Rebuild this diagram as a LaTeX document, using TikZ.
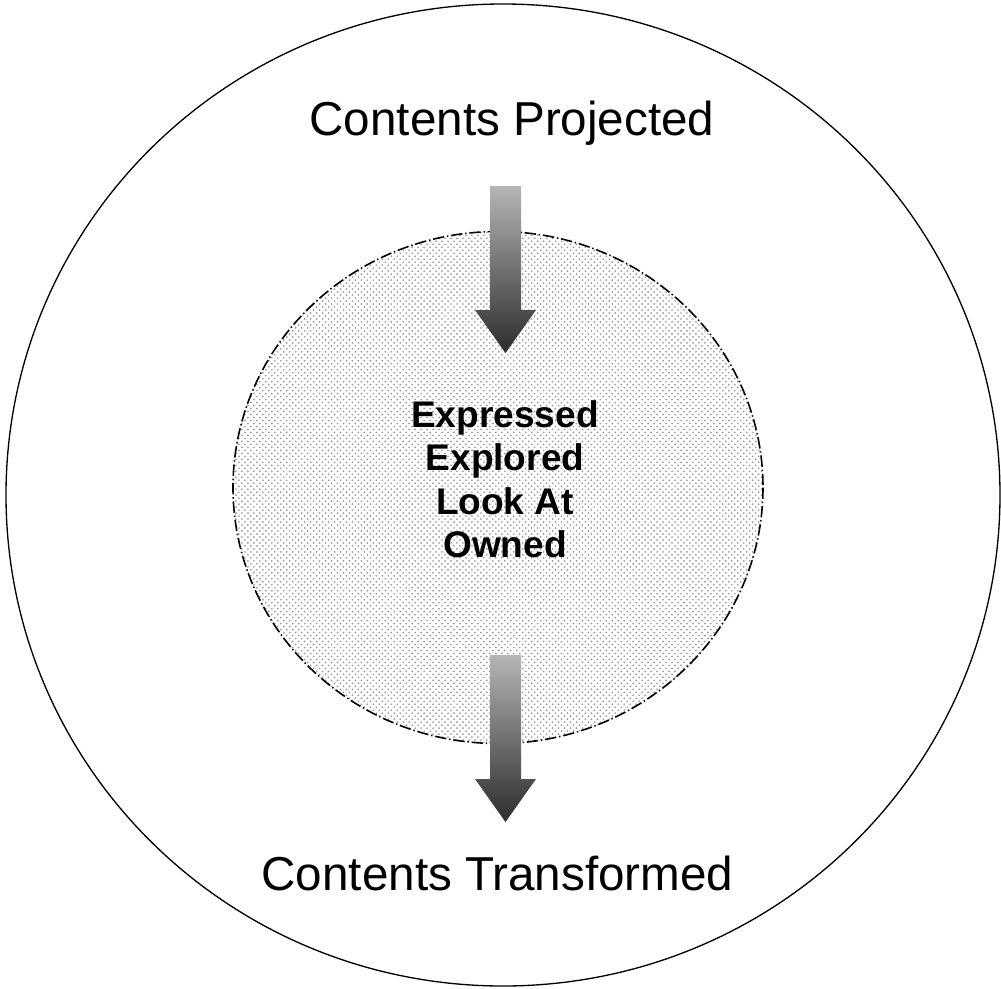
\documentclass[tikz,border=0pt]{standalone}
\usepackage{fontspec}
\setmainfont{Liberation Sans}
\usetikzlibrary{patterns}

% sparse grey dot screen for the inner zone
\pgfdeclarepatternformonly{greydots}{\pgfqpoint{-0.6pt}{-0.6pt}}{\pgfqpoint{2.4pt}{2.4pt}}{\pgfqpoint{3.4pt}{3.4pt}}{%
  \pgfpathcircle{\pgfqpoint{0pt}{0pt}}{0.55pt}%
  \pgfpathcircle{\pgfqpoint{1.7pt}{1.7pt}}{0.55pt}%
  \pgfusepath{fill}}

\tikzset{
  outerring/.style={draw=black, line width=0.75pt},
  innerzone/.style={draw=black, line width=0.9pt,
    dash pattern=on 6.5pt off 1.6pt on 0.8pt off 1.6pt,
    pattern=greydots, pattern color=gray!80},
  flowarrow/.style={top color=gray!58, bottom color=gray!35!black, draw=none},
  bigtext/.style={inner sep=0pt, font=\fontsize{27.1}{33}\selectfont},
  midtext/.style={inner sep=0pt, align=center,
    font=\bfseries\fontsize{21.1}{24.7}\selectfont}
}

% block arrow pointing down, #1 = centre x, #2 = top y
\newcommand{\flowdown}[2]{%
  \shade[flowarrow] (#1-15.5,#2) -- (#1+15.5,#2) -- (#1+15.5,#2+124)
    -- (#1+30.5,#2+124) -- (#1,#2+167) -- (#1-30.5,#2+124)
    -- (#1-15.5,#2+124) -- cycle;}

\begin{document}
\begin{tikzpicture}[x=0.02cm, y=-0.02cm]
  \useasboundingbox (0,0) rectangle (1001,988);

  % rings
  \draw[outerring] (503,495) ellipse (497 and 491);
  \draw[innerzone] (498,487.5) ellipse (265 and 256);

  % arrows in and out
  \flowdown{505.5}{186}
  \flowdown{505.5}{655}

  % labels
  \node[bigtext, anchor=base] (projected) at (512,135) {Contents Projected};
  \node[bigtext, anchor=base] (transformed) at (497.5,890) {Contents Transformed};
  \node[midtext, anchor=north] (core) at (505,400)
    {Expressed\\Explored\\Look At\\Owned};
\end{tikzpicture}
\end{document}
